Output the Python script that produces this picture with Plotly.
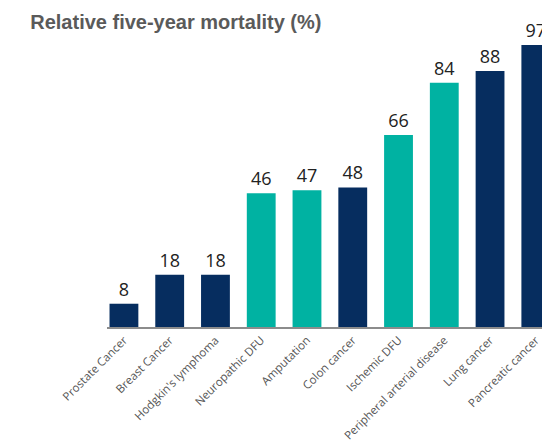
import plotly.graph_objects as go

categories = ["Prostate Cancer", "Breast Cancer", "Hodgkin's lymphoma", "Neuropathic DFU",
              "Amputation", "Colon cancer", "Ischemic DFU", "Peripheral arterial disease",
              "Lung cancer", "Pancreatic cancer"]
mortality = [8, 18, 18, 46, 47, 48, 66, 84, 88, 97]
groups = ["cancer", "cancer", "cancer", "dfu", "dfu", "cancer", "dfu", "dfu", "cancer", "cancer"]

NAVY = "#062d5f"
TEAL = "#00b2a2"
colors = [NAVY if g == "cancer" else TEAL for g in groups]

fig = go.Figure(go.Bar(
    x=categories,
    y=mortality,
    marker=dict(color=colors, line=dict(width=0)),
    text=[str(v) for v in mortality],
    textposition="outside",
    textfont=dict(family="Open Sans", size=18, color="#222222"),
    cliponaxis=False,
    width=0.63,
))

# page body has an 8px default margin, so the figure is 542x437
fig.update_layout(
    width=542, height=437,
    margin=dict(l=99, r=0, t=34, b=118, autoexpand=False),
    paper_bgcolor="white", plot_bgcolor="white",
    showlegend=False,
    title=dict(text="<b>Relative five-year mortality (%)</b>",
               font=dict(family="Liberation Sans", size=20, color="#5a5a5a"),
               x=0.041, xanchor="left", y=0.968, yanchor="middle"),
    xaxis=dict(
        range=[-0.37, 9.31],
        tickangle=-45,
        automargin=False,
        tickfont=dict(family="Open Sans", size=11.5, color="#555555"),
        showline=True, linecolor="#8c8c8c", linewidth=2,
        ticks="", showgrid=False,
    ),
    yaxis=dict(range=[0, 98], visible=False, showgrid=False, automargin=False),
)

fig.write_html("out.html")
